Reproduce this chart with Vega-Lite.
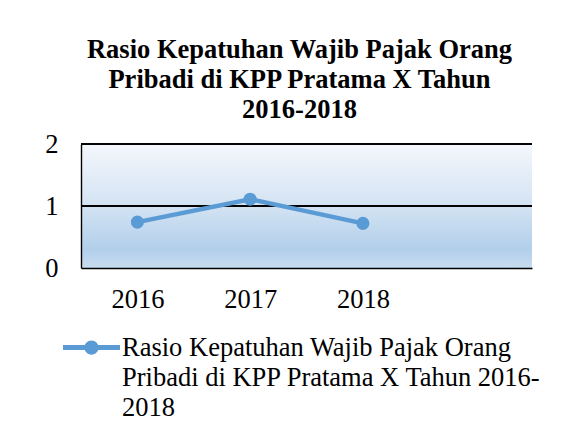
{
  "$schema": "https://vega.github.io/schema/vega-lite/v6.json",
  "autosize": "none",
  "width": 451,
  "height": 124,
  "padding": {"left": 81, "top": 144, "right": 52, "bottom": 171},
  "background": "white",
  "title": {
    "text": ["Rasio Kepatuhan Wajib Pajak Orang", "Pribadi di KPP Pratama X Tahun", "2016-2018"],
    "font": "Liberation Serif",
    "fontSize": 26.5,
    "fontWeight": "bold",
    "color": "black",
    "lineHeight": 30,
    "anchor": "middle",
    "dx": -7,
    "offset": 8
  },
  "data": {
    "values": [
      {"year": "2016", "value": 0.74, "series": "Rasio Kepatuhan Wajib Pajak Orang Pribadi di KPP Pratama X Tahun 2016-2018"},
      {"year": "2017", "value": 1.11, "series": "Rasio Kepatuhan Wajib Pajak Orang Pribadi di KPP Pratama X Tahun 2016-2018"},
      {"year": "2018", "value": 0.72, "series": "Rasio Kepatuhan Wajib Pajak Orang Pribadi di KPP Pratama X Tahun 2016-2018"}
    ]
  },
  "layer": [
    {
      "mark": {"type": "rule", "color": "black", "strokeWidth": 1.4},
      "encoding": {"y": {"datum": 1, "type": "quantitative"}}
    },
    {
      "mark": {"type": "rule", "color": "black", "strokeWidth": 1.4},
      "encoding": {"y": {"datum": 2, "type": "quantitative"}}
    },
    {
      "mark": {"type": "line", "strokeWidth": 4.5, "point": {"filled": true, "size": 170, "opacity": 1}},
      "encoding": {
        "x": {
          "field": "year",
          "type": "ordinal",
          "scale": {"domain": ["2016", "2017", "2018", " "], "padding": 0.5},
          "axis": {
            "title": null,
            "labelAngle": 0,
            "labelFont": "Liberation Serif",
            "labelFontSize": 26.5,
            "labelColor": "black",
            "labelPadding": 18,
            "ticks": false,
            "domainColor": "black",
            "domainWidth": 1.4
          }
        },
        "y": {
          "field": "value",
          "type": "quantitative",
          "scale": {"domain": [0, 2], "nice": false},
          "axis": {
            "title": null,
            "values": [0, 1, 2],
            "labelExpr": "toString(datum.value)",
            "grid": false,
            "ticks": false,
            "labelOverlap": false,
            "labelFont": "Liberation Serif",
            "labelFontSize": 26.5,
            "labelColor": "black",
            "labelPadding": 23,
            "domainColor": "black",
            "domainWidth": 1.4
          }
        },
        "color": {
          "field": "series",
          "type": "nominal",
          "scale": {"range": ["#5b9bd5"]},
          "legend": {
            "title": null,
            "orient": "none",
            "legendX": -18,
            "legendY": 175,
            "padding": 0,
            "symbolType": "M-1,-0.088L1,-0.088L1,0.088L-1,0.088Z M-0.25,0A0.25,0.25,0,1,1,0.25,0A0.25,0.25,0,1,1,-0.25,0Z",
            "symbolSize": 3249,
            "labelFont": "Liberation Serif",
            "labelFontSize": 26.5,
            "labelColor": "black",
            "labelLimit": 600,
            "labelOffset": 2,
            "labelExpr": "['Rasio Kepatuhan Wajib Pajak Orang', 'Pribadi di KPP Pratama X Tahun 2016-', '2018']",
            "labelBaseline": "middle",
            "encode": {
              "symbols": {"update": {"fill": {"value": "#5b9bd5"}, "stroke": {"value": "transparent"}, "strokeWidth": {"value": 0}, "opacity": {"value": 1}}},
              "labels": {"update": {"lineHeight": {"value": 30}}}
            }
          }
        }
      }
    }
  ],
  "config": {
    "view": {
      "stroke": null,
      "fill": {
        "gradient": "linear",
        "x1": 0, "y1": 0, "x2": 0, "y2": 1,
        "stops": [
          {"offset": 0, "color": "#f4f7fc"},
          {"offset": 0.5, "color": "#d3e3f3"},
          {"offset": 0.85, "color": "#b2cfea"},
          {"offset": 1, "color": "#c8dcf0"}
        ]
      }
    }
  }
}
